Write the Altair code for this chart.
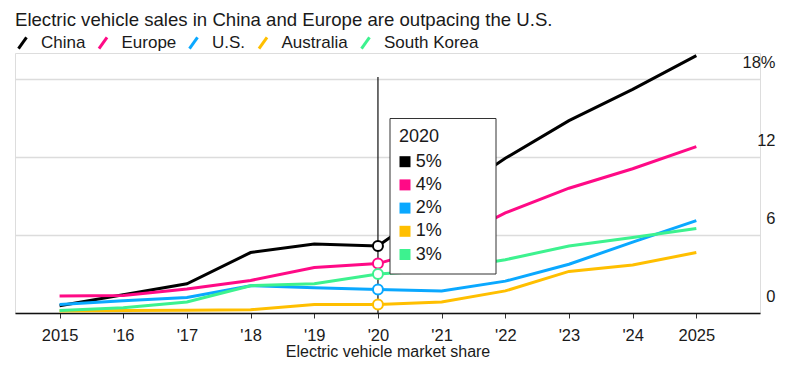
import altair as alt
import pandas as pd

years = [2015, 2016, 2017, 2018, 2019, 2020, 2021, 2022, 2023, 2024, 2025]
series = ["China", "Europe", "U.S.", "Australia", "South Korea"]
colors = ["#000000", "#ff0a86", "#0aa8ff", "#ffbf00", "#3df28f"]

china = [0.55, 1.4, 2.25, 4.65, 5.3, 5.15, 8.6, 11.9, 14.8, 17.2, 19.8]
europe = [1.3, 1.35, 1.85, 2.5, 3.5, 3.8, 5.2, 7.7, 9.6, 11.1, 12.8]
us = [0.65, 0.95, 1.2, 2.1, 1.95, 1.8, 1.7, 2.45, 3.75, 5.45, 7.1]
australia = [0.15, 0.2, 0.22, 0.25, 0.65, 0.65, 0.85, 1.7, 3.2, 3.7, 4.65]
south_korea = [0.2, 0.4, 0.85, 2.1, 2.25, 3.0, 3.3, 4.1, 5.15, 5.8, 6.5]

y_ticks = [0, 6, 12, 18]
hover_year = 2020

title_text = "Electric vehicle sales in China and Europe are outpacing the U.S."
x_title = "Electric vehicle market share"

FONT = "Liberation Sans"
TXT = "#1a1a1a"

values = [china, europe, us, australia, south_korea]
rows = []
for s, vals in zip(series, values):
    for yr, v in zip(years, vals):
        rows.append({"series": s, "year": yr, "value": v})
df = pd.DataFrame(rows)

hover = df[df["year"] == hover_year].copy()
hover["i"] = [series.index(s) for s in hover["series"]]
hover["label"] = [f"{round(v)}%" for v in hover["value"]]

W, H = 745, 260

color_scale = alt.Scale(domain=series, range=colors)

x_enc = alt.X(
    "year:Q",
    scale=alt.Scale(domain=[2014.3, 2026], nice=False, zero=False),
    axis=alt.Axis(
        values=years,
        labelExpr="(datum.value == 2015 || datum.value == 2025) ? toString(datum.value) : \"'\" + substring(toString(datum.value), 2)",
        grid=False,
        domainColor="#111111",
        domainWidth=1.5,
        tickColor="#333333",
        tickSize=5,
        tickWidth=1,
        labelFont=FONT,
        labelFontSize=16.5,
        labelColor=TXT,
        labelPadding=9,
        title=x_title,
        titleFont=FONT,
        titleFontSize=16,
        titleFontWeight="normal",
        titleColor=TXT,
        titlePadding=0,
    ),
)

y_enc = alt.Y(
    "value:Q",
    scale=alt.Scale(domain=[0, 20], nice=False),
    axis=alt.Axis(
        orient="right",
        values=y_ticks,
        grid=True,
        gridColor="#dcdcdc",
        gridWidth=1.3,
        domain=False,
        ticks=False,
        labelAlign="right",
        labelBaseline="middle",
        labelPadding=15,
        labelOffset=-17,
        labelFont=FONT,
        labelFontSize=16.5,
        labelColor=TXT,
        labelExpr="datum.value == 18 ? '18%' : datum.label",
        title=None,
    ),
)

lines = alt.Chart(df).mark_line(strokeWidth=3).encode(
    x=x_enc,
    y=y_enc,
    color=alt.Color(
        "series:N",
        scale=color_scale,
        sort=series,
        legend=alt.Legend(
            title=None,
            orient="none",
            legendX=-2,
            legendY=-20,
            direction="horizontal",
            symbolType="M-0.5,0.7L0.5,-0.7",
            symbolSize=256,
            symbolStrokeWidth=3,
            labelFont=FONT,
            labelFontSize=17,
            labelColor=TXT,
            labelOffset=9,
            columnPadding=6.5,
            padding=0,
        ),
    ),
)

rule = alt.Chart(hover.head(1)).mark_rule(color="#222222", strokeWidth=1.3).encode(
    x="year:Q", y=alt.value(24), y2=alt.value(H)
)

points = alt.Chart(hover).mark_point(
    shape="circle", filled=False, fill="white", fillOpacity=1, size=100, strokeWidth=2, opacity=1
).encode(
    x="year:Q",
    y="value:Q",
    color=alt.Color("series:N", scale=color_scale, legend=None),
)

box = alt.Chart(hover.head(1)).mark_rect(fill="white", stroke="#333333", strokeWidth=1).encode(
    x=alt.value(375), x2=alt.value(481), y=alt.value(65.5), y2=alt.value(221)
)

box_title = alt.Chart(hover.head(1)).mark_text(
    align="left", baseline="middle", font=FONT, fontSize=18, color=TXT
).encode(x=alt.value(384), y=alt.value(83.5), text=alt.Text("year:N"))

squares = alt.Chart(hover).transform_calculate(py="108.7 + 23.2 * datum.i").mark_square(
    size=121, opacity=1
).encode(
    x=alt.value(390),
    y=alt.Y("py:Q", scale=None),
    color=alt.Color("series:N", scale=color_scale, legend=None),
)

box_text = alt.Chart(hover).transform_calculate(py="108.7 + 23.2 * datum.i").mark_text(
    align="left", baseline="middle", font=FONT, fontSize=18, color=TXT
).encode(
    x=alt.value(400.7),
    y=alt.Y("py:Q", scale=None),
    text="label:N",
)

chart = alt.layer(lines, rule, points, box, box_title, squares, box_text).properties(
    width=W,
    height=H,
    title=alt.TitleParams(
        text=title_text,
        anchor="start",
        frame="group",
        font=FONT,
        fontSize=18.6,
        fontWeight="normal",
        color=TXT,
        offset=3,
    ),
    autosize=alt.AutoSizeParams(type="none"),
    padding={"left": 7, "top": 45, "right": 32, "bottom": 49},
).configure_view(stroke=None).configure(background="white")

chart.save("out.html", embed_options={"renderer": "svg", "actions": False})
